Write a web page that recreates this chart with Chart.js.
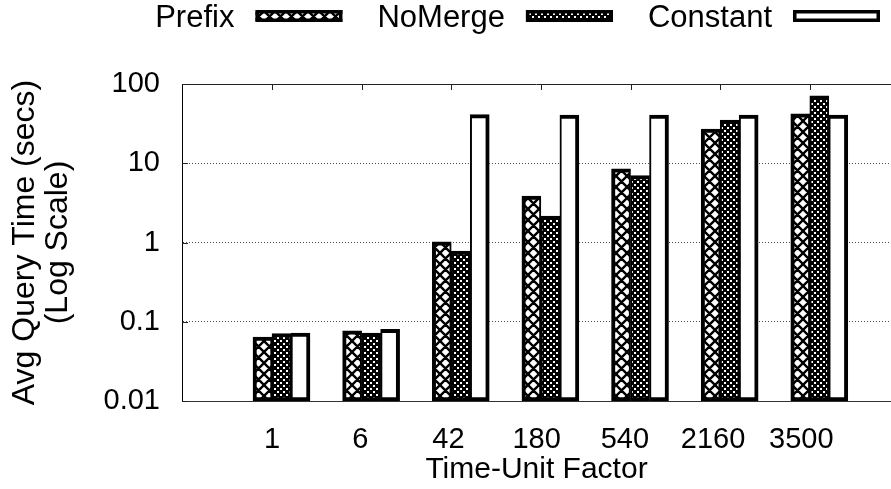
<!DOCTYPE html>
<html>
<head>
<meta charset="utf-8">
<script src="https://cdn.jsdelivr.net/npm/chart.js@4.4.1/dist/chart.umd.min.js"></script>
<style>
  html, body { margin: 0; padding: 0; background: #fff; }
  canvas { display: block; }
</style>
</head>
<body>
<canvas id="chart" width="891" height="489"></canvas>
<script>
// Average query time per time-unit factor, three strategies (seconds, log scale)
const categories = ['1', '6', '42', '180', '540', '2160', '3500'];
const seriesNames = ['Prefix', 'NoMerge', 'Constant'];
const prefixTimes = [0.064, 0.077, 1.02, 3.85, 8.5, 27, 42];
const noMergeTimes = [0.071, 0.072, 0.78, 2.15, 7.0, 35, 71];
const constantTimes = [0.072, 0.080, 41, 40.5, 40.5, 40.5, 40.5];
const yTickValues = [0.01, 0.1, 1, 10, 100];

const FONT = "'Liberation Sans', Arial, Helvetica, sans-serif";
const TICK_SIZE = 29;
const TICK_SHIFT = 0.105;   // category tick sits left of its bar cluster centre
const LABEL_DRIFT = 0.016;  // labels creep leftwards along the axis

function makePattern(size, paint) {
  const tile = document.createElement('canvas');
  tile.width = size;
  tile.height = size;
  const g = tile.getContext('2d');
  paint(g, size);
  return g.createPattern(tile, 'repeat');
}

// diagonal cross-hatch: black lattice around white diamonds
const crossHatch = makePattern(11, (g, s) => {
  g.fillStyle = '#fff';
  g.fillRect(0, 0, s, s);
  g.strokeStyle = '#000';
  g.lineWidth = 2.4;
  g.beginPath();
  for (const k of [-s, 0, s]) {
    g.moveTo(k - 2, -2); g.lineTo(k + s + 2, s + 2);
    g.moveTo(k + s + 2, -2); g.lineTo(k - 2, s + 2);
  }
  g.stroke();
});

// dense fill: black with a staggered grid of small white dots
const dotFill = makePattern(6, (g, s) => {
  g.fillStyle = '#000';
  g.fillRect(0, 0, s, s);
  g.fillStyle = '#fff';
  g.fillRect(1, 1, 2, 2);
  g.fillRect(4, 4, 2, 2);
});

const toPoints = values => values.map((v, i) => ({ x: i, y: v }));

const datasets = [
  {
    label: seriesNames[0],
    data: toPoints(prefixTimes),
    backgroundColor: crossHatch,
    borderColor: '#000',
    borderWidth: { top: 4, bottom: 4, left: 4, right: 2 },
    borderSkipped: false
  },
  {
    label: seriesNames[1],
    data: toPoints(noMergeTimes),
    backgroundColor: dotFill,
    borderColor: '#000',
    borderWidth: { top: 4, bottom: 4, left: 2, right: 2 },
    borderSkipped: false
  },
  {
    label: seriesNames[2],
    data: toPoints(constantTimes),
    backgroundColor: '#fff',
    borderColor: '#000',
    borderWidth: { top: 4, bottom: 4, left: 2, right: 4 },
    borderSkipped: false
  }
];

// top edge of the frame plus inward tick marks on the top and left edges
const framePlugin = {
  id: 'frame',
  beforeDatasetsDraw(chart) {
    const { ctx, chartArea: a, scales: { x, y } } = chart;
    ctx.save();
    ctx.strokeStyle = '#222';
    ctx.lineWidth = 1;
    ctx.beginPath();
    ctx.moveTo(a.left, a.top + 0.5);
    ctx.lineTo(a.right, a.top + 0.5);
    categories.forEach((_, i) => {
      const px = Math.round(x.getPixelForValue(i - TICK_SHIFT)) + 0.5;
      ctx.moveTo(px, a.top);
      ctx.lineTo(px, a.top + 6);
    });
    y.ticks.forEach(t => {
      const py = Math.round(y.getPixelForValue(t.value)) + 0.5;
      ctx.moveTo(a.left, py);
      ctx.lineTo(a.left + 6, py);
    });
    ctx.stroke();
    ctx.restore();
  }
};

// key along the top: label text followed by its fill swatch
const keyPlugin = {
  id: 'key',
  afterDraw(chart) {
    const { ctx } = chart;
    const swatchW = 87, swatchH = 12, swatchTop = 10, baseline = 27;
    const textGap = 21, itemGap = 35;
    ctx.save();
    ctx.font = `31px ${FONT}`;
    ctx.textAlign = 'right';
    ctx.textBaseline = 'alphabetic';
    let right = chart.width - 11;
    const list = chart.data.datasets;
    for (let i = list.length - 1; i >= 0; i--) {
      const ds = list[i];
      const left = right - swatchW;
      ctx.fillStyle = ds.backgroundColor;
      ctx.fillRect(left, swatchTop, swatchW, swatchH);
      ctx.lineWidth = 3.5;
      ctx.strokeStyle = '#000';
      ctx.strokeRect(left + 1.75, swatchTop + 1.75, swatchW - 3.5, swatchH - 3.5);
      ctx.fillStyle = '#000';
      ctx.fillText(ds.label, left - textGap, baseline);
      right = left - textGap - ctx.measureText(ds.label).width - itemGap;
    }
    ctx.restore();
  }
};

new Chart(document.getElementById('chart'), {
  type: 'bar',
  data: { datasets },
  plugins: [framePlugin, keyPlugin],
  options: {
    responsive: false,
    animation: false,
    devicePixelRatio: 1,
    layout: { padding: { top: 84, right: 0, bottom: 0, left: 0 } },
    barThickness: 19,
    plugins: {
      legend: { display: false },
      tooltip: { enabled: false }
    },
    scales: {
      x: {
        type: 'linear',
        min: -1.11,
        max: 6.80,
        offset: false,
        afterBuildTicks: s => {
          s.ticks = categories.map((_, i) => ({ value: i - TICK_SHIFT - LABEL_DRIFT * i }));
        },
        afterFit: s => { s.height = 88; },
        ticks: {
          callback: (v, i) => categories[i],
          autoSkip: false,
          maxRotation: 0,
          padding: 22,
          color: '#000',
          font: { family: FONT, size: TICK_SIZE }
        },
        grid: { display: false, drawTicks: false, offset: false },
        border: { display: true, color: '#333', width: 1 },
        title: {
          display: true,
          text: 'Time-Unit Factor',
          color: '#000',
          font: { family: FONT, size: 30, lineHeight: 1.2 },
          padding: { top: 0, bottom: 1 }
        }
      },
      y: {
        type: 'logarithmic',
        min: 0.01,
        max: 100,
        afterBuildTicks: s => { s.ticks = yTickValues.map(v => ({ value: v })); },
        afterFit: s => { s.width = 182; },
        ticks: {
          callback: v => String(v),
          autoSkip: false,
          padding: 22,
          color: '#000',
          font: { family: FONT, size: TICK_SIZE }
        },
        grid: {
          drawTicks: false,
          lineWidth: 1,
          color: c => (c.tick && (c.tick.value === 0.01 || c.tick.value === 100)) ? 'rgba(0,0,0,0)' : 'rgba(0,0,0,0.7)'
        },
        border: { display: true, color: '#000', width: 1, dash: [1, 2] },
        title: {
          display: true,
          text: ['Avg Query Time (secs)', '(Log Scale)'],
          color: '#000',
          font: { family: FONT, size: 32, lineHeight: 1.05 },
          padding: { top: 8, bottom: 0 }
        }
      }
    }
  }
});
</script>
</body>
</html>
